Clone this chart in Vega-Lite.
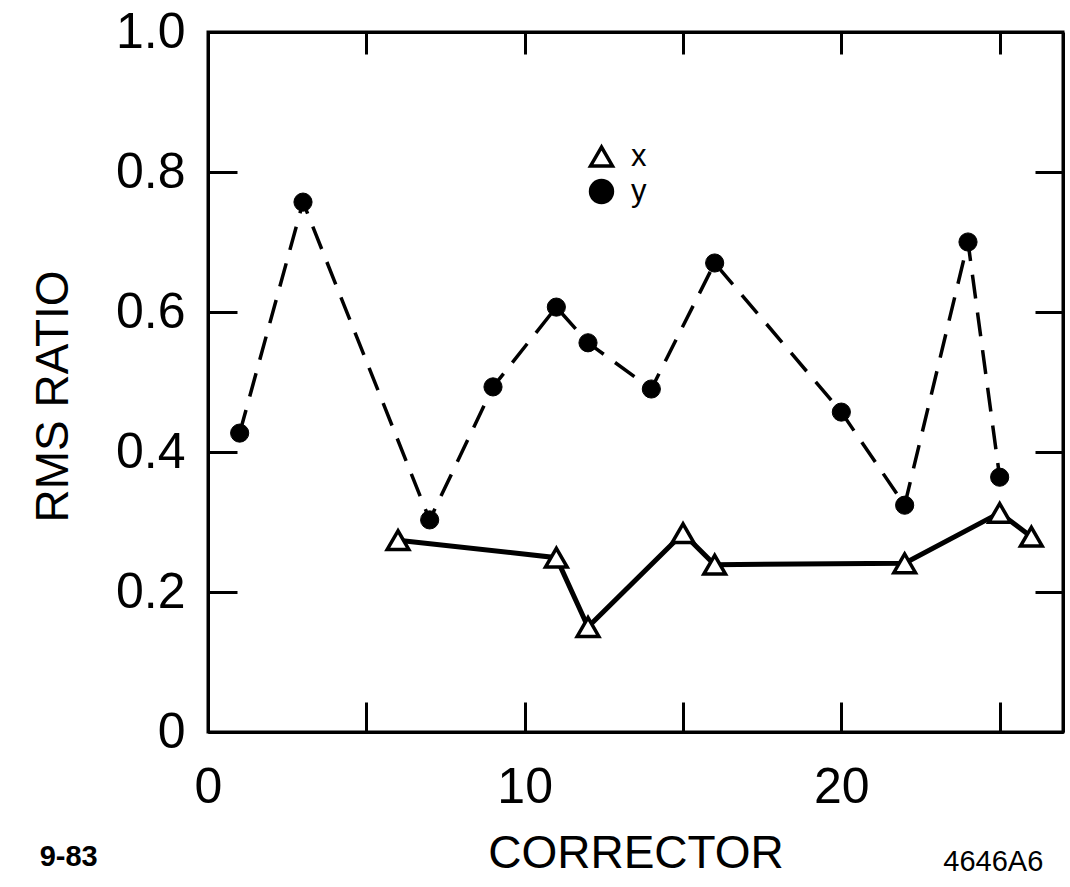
{
  "$schema": "https://vega.github.io/schema/vega-lite/v6.json",
  "width": 855,
  "height": 700,
  "autosize": {"type": "none"},
  "padding": {"left": 208, "top": 32, "right": 7, "bottom": 155},
  "background": "white",
  "config": {
    "view": {"stroke": "black", "strokeWidth": 3},
    "axis": {
      "domainColor": "black",
      "domainWidth": 3,
      "tickColor": "black",
      "tickWidth": 3,
      "grid": false,
      "labelFont": "Liberation Sans",
      "labelFontSize": 50,
      "labelColor": "black",
      "labelFlush": false,
      "titleFont": "Liberation Sans",
      "titleFontSize": 46,
      "titleFontWeight": "normal",
      "titleColor": "black",
      "labelOverlap": false
    },
    "legend": {
      "orient": "none",
      "legendX": 378,
      "legendY": 109,
      "title": null,
      "labelFont": "Liberation Sans",
      "labelFontSize": 31,
      "labelColor": "black",
      "labelOffset": 14,
      "symbolSize": 480,
      "symbolStrokeWidth": 3.5,
      "rowPadding": 0
    }
  },
  "datasets": {
    "rms": [
      {"corrector": 1, "rms": 0.427, "plane": "y"},
      {"corrector": 3, "rms": 0.757, "plane": "y"},
      {"corrector": 7, "rms": 0.303, "plane": "y"},
      {"corrector": 9, "rms": 0.493, "plane": "y"},
      {"corrector": 11, "rms": 0.607, "plane": "y"},
      {"corrector": 12, "rms": 0.556, "plane": "y"},
      {"corrector": 14, "rms": 0.49, "plane": "y"},
      {"corrector": 16, "rms": 0.67, "plane": "y"},
      {"corrector": 20, "rms": 0.457, "plane": "y"},
      {"corrector": 22, "rms": 0.324, "plane": "y"},
      {"corrector": 24, "rms": 0.7, "plane": "y"},
      {"corrector": 25, "rms": 0.364, "plane": "y"},
      {"corrector": 6, "rms": 0.274, "plane": "x"},
      {"corrector": 11, "rms": 0.249, "plane": "x"},
      {"corrector": 12, "rms": 0.15, "plane": "x"},
      {"corrector": 15, "rms": 0.284, "plane": "x"},
      {"corrector": 16, "rms": 0.239, "plane": "x"},
      {"corrector": 22, "rms": 0.241, "plane": "x"},
      {"corrector": 25, "rms": 0.313, "plane": "x"},
      {"corrector": 26, "rms": 0.279, "plane": "x"}
    ],
    "notes": [
      {"label": "9-83", "cx": -4.4, "cy": -0.179, "kind": "date"},
      {"label": "4646A6", "cx": 24.8, "cy": -0.186, "kind": "code"}
    ]
  },
  "resolve": {"axis": {"x": "independent", "y": "independent"}},
  "layer": [
    {
      "data": {"name": "rms"},
      "encoding": {
        "x": {
          "field": "corrector",
          "type": "quantitative",
          "scale": {"domain": [0, 27], "nice": false, "zero": false},
          "axis": {
            "orient": "bottom",
            "title": "CORRECTOR",
            "values": [0, 5, 10, 15, 20, 25],
            "labelExpr": "datum.value % 10 === 0 ? datum.label : ''",
            "tickSize": -30,
            "labelPadding": 60,
            "titlePadding": 19
          }
        },
        "y": {
          "field": "rms",
          "type": "quantitative",
          "scale": {"domain": [0, 1], "nice": false},
          "axis": {
            "orient": "left",
            "title": "RMS RATIO",
            "values": [0, 0.2, 0.4, 0.6, 0.8, 1.0],
            "format": ".1f",
            "labelExpr": "datum.value === 0 ? '0' : datum.label",
            "tickSize": -29,
            "labelPadding": 52,
            "titlePadding": 38,
            "titleY": 364
          }
        },
        "shape": {
          "field": "plane",
          "type": "nominal",
          "scale": {"domain": ["x", "y"], "range": ["triangle-up", "circle"]},
          "legend": {
            "encode": {
              "symbols": {
                "update": {
                  "stroke": {"value": "black"},
                  "strokeWidth": {"value": 3.5},
                  "opacity": {"value": 1}
                }
              }
            }
          }
        },
        "fill": {"field": "plane", "type": "nominal", "scale": {"domain": ["x", "y"], "range": ["white", "black"]}}
      },
      "layer": [
        {
          "transform": [{"filter": "datum.plane === 'y'"}],
          "mark": {"type": "line", "color": "black", "strokeWidth": 3.5, "strokeDash": [24, 14]},
          "encoding": {"shape": null, "fill": null}
        },
        {
          "transform": [{"filter": "datum.plane === 'x'"}],
          "mark": {"type": "line", "color": "black", "strokeWidth": 5},
          "encoding": {"shape": null, "fill": null}
        },
        {
          "transform": [{"filter": "datum.plane === 'x'"}],
          "mark": {"type": "point", "filled": true, "stroke": "black", "strokeWidth": 3.5, "opacity": 1, "size": 470}
        },
        {
          "transform": [{"filter": "datum.plane === 'y'"}],
          "mark": {"type": "point", "filled": true, "stroke": "black", "strokeWidth": 1, "opacity": 1, "size": 330}
        },
        {
          "data": {"name": "notes"},
          "transform": [{"filter": "datum.kind === 'date'"}],
          "mark": {"type": "text", "font": "Liberation Sans", "fontSize": 29, "fontWeight": "bold", "color": "black", "clip": false},
          "encoding": {
            "x": {"field": "cx", "type": "quantitative"},
            "y": {"field": "cy", "type": "quantitative"},
            "text": {"field": "label"},
            "shape": null,
            "fill": null
          }
        },
        {
          "data": {"name": "notes"},
          "transform": [{"filter": "datum.kind === 'code'"}],
          "mark": {"type": "text", "font": "Liberation Sans", "fontSize": 29, "color": "black", "clip": false},
          "encoding": {
            "x": {"field": "cx", "type": "quantitative"},
            "y": {"field": "cy", "type": "quantitative"},
            "text": {"field": "label"},
            "shape": null,
            "fill": null
          }
        }
      ]
    },
    {
      "data": {"name": "rms"},
      "mark": {"type": "point", "opacity": 0},
      "encoding": {
        "x": {
          "field": "corrector",
          "type": "quantitative",
          "axis": {"orient": "top", "title": null, "labels": false, "values": [0, 5, 10, 15, 20, 25], "tickSize": -22}
        },
        "y": {
          "field": "rms",
          "type": "quantitative",
          "axis": {"orient": "right", "title": null, "labels": false, "values": [0, 0.2, 0.4, 0.6, 0.8, 1.0], "tickSize": -28}
        }
      }
    }
  ]
}
